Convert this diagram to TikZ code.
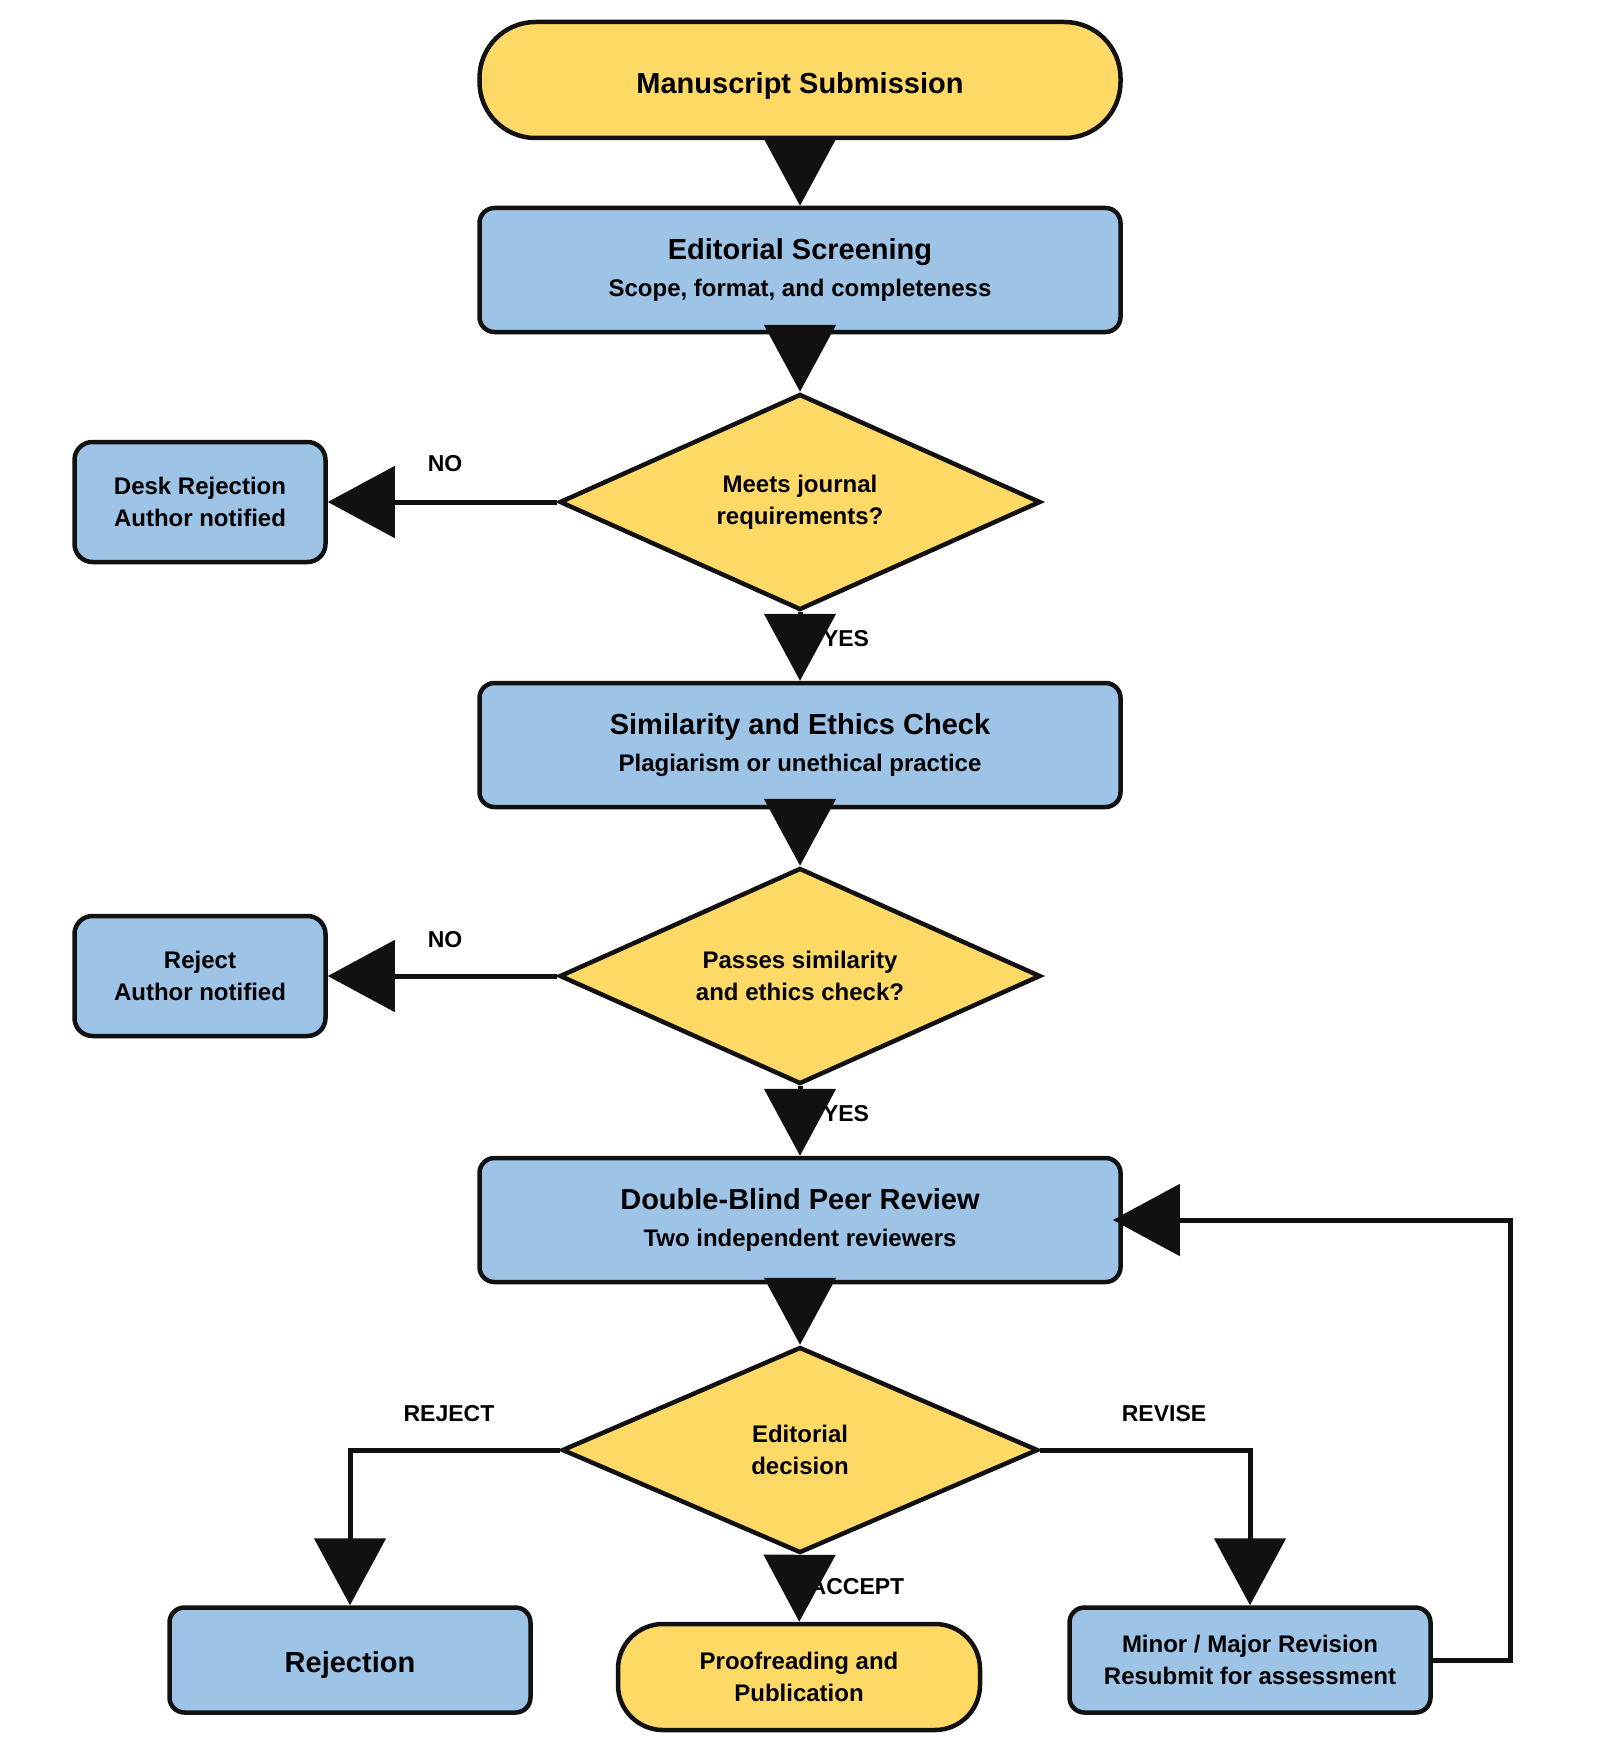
\documentclass[tikz,border=0pt]{standalone}
\usepackage{fontspec}
\setmainfont{Liberation Sans}
\usetikzlibrary{shapes.geometric, arrows.meta}
\definecolor{myyellow}{RGB}{255,217,102}
\definecolor{myblue}{RGB}{157,195,230}
\definecolor{myblack}{RGB}{17,17,17}

\begin{document}
\begin{tikzpicture}[x=1pt, y=-1pt, %Pixelkoordinaten, y nach unten
  base/.style={draw=myblack, line width=4.5pt, inner sep=0pt, align=center,
    font=\bfseries\fontsize{24}{32}\selectfont},
  proc/.style={base, rectangle, rounded corners=15pt, fill=myblue,
    minimum width=641pt, minimum height=124pt},
  side/.style={base, rectangle, rounded corners=18pt, fill=myblue,
    minimum width=251pt, minimum height=120pt},
  endbox/.style={base, rectangle, rounded corners=15pt, fill=myblue,
    minimum width=361pt, minimum height=105pt},
  term/.style={base, rectangle, fill=myyellow},
  dec/.style={base, diamond, aspect=2.2, fill=myyellow, minimum width=481pt, minimum height=216pt},
  lbl/.style={inner sep=0pt, font=\bfseries\fontsize{23}{28}\selectfont},
  arr/.style={draw=myblack, line width=5pt,
    -{Triangle[width=71pt, length=67pt]}}]
  \useasboundingbox (0,0) rectangle (1600,1744);

  \node[term, rounded corners=56pt, minimum width=641pt, minimum height=116pt,
    text height=27.6pt, text depth=0pt] (sub) at (800,80) {\fontsize{29}{34}\selectfont Manuscript Submission};
  \node[proc] (scr) at (800,270) {{\fontsize{29}{34}\selectfont Editorial Screening}\\[5pt]Scope, format, and completeness};
  \node[dec] (q1) at (800,502) {Meets journal\\requirements?};
  \node[side] (desk) at (200,502) {Desk Rejection\\Author notified};
  \node[proc] (sim) at (800,745) {{\fontsize{29}{34}\selectfont Similarity and Ethics Check}\\[5pt]Plagiarism or unethical practice};
  \node[dec] (q2) at (800,976) {Passes similarity\\and ethics check?};
  \node[side] (rej) at (200,976) {Reject\\Author notified};
  \node[proc] (peer) at (800,1220) {{\fontsize{29}{34}\selectfont Double-Blind Peer Review}\\[5pt]Two independent reviewers};
  \node[dec, minimum width=476pt, minimum height=206pt] (q3) at (800,1450) {Editorial\\decision};
  \node[endbox, text height=24pt, text depth=0pt] (rjt) at (350,1660) {\fontsize{29}{34}\selectfont Rejection};
  \node[term, rounded corners=45pt, minimum width=362pt, minimum height=106pt] (pub) at (799,1677) {Proofreading and\\Publication};
  \node[endbox] (rev) at (1250,1660) {Minor / Major Revision\\Resubmit for assessment};

  \node[lbl] (no1) at (445,464) {NO};
  \node[lbl] (yes1) at (846,639) {YES};
  \node[lbl] (no2) at (445,940) {NO};
  \node[lbl] (yes2) at (846,1114) {YES};
  \node[lbl] (lrej) at (449,1414) {REJECT};
  \node[lbl] (lrev) at (1164,1414) {REVISE};
  \node[lbl] (lacc) at (857,1587) {ACCEPT};

  \coordinate (loop) at (1510,1660);

  \draw[arr] (sub) -- (scr);
  \draw[arr] (scr) -- (q1);
  \draw[arr] (q1) -- (desk);
  \draw[arr] (q1) -- (sim);
  \draw[arr] (sim) -- (q2);
  \draw[arr] (q2) -- (rej);
  \draw[arr] (q2) -- (peer);
  \draw[arr] (peer) -- (q3);
  \draw[arr] (q3.west) -| (rjt);
  \draw[arr] (q3.east) -| (rev);
  \draw[arr] (q3) -- (pub);
  \draw[arr] (rev) -- (loop) |- ([xshift=-10pt]peer.east);
\end{tikzpicture}
\end{document}
